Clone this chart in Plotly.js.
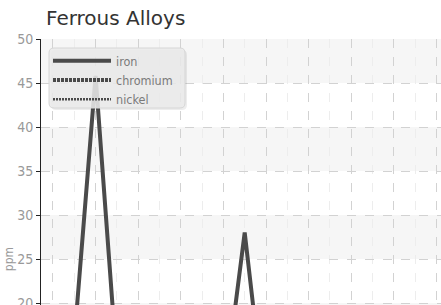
<!DOCTYPE html>
<html>
<head>
<meta charset="utf-8">
<script src="https://cdn.plot.ly/plotly-3.0.1.min.js"></script>
<style>
html, body { margin: 0; padding: 0; overflow: hidden; background: #fff; }
#chart { width: 441px; height: 520px; }
</style>
</head>
<body>
<div id="chart"></div>
<script>
// Data
var xIndex   = [1, 2, 3, 4, 5, 6, 7, 8, 9, 10, 11, 12, 13, 14, 15, 16, 17, 18, 19, 20];
var iron     = [10, 12, 15.8, 45.8, 13, 8, 11, 9, 10, 9, 28, 7, 12, 14, 10, 11, 9, 13, 12, 10];
var chromium = [5, 6, 4, 7, 5, 6, 8, 5, 6, 7, 9, 6, 5, 7, 6, 8, 5, 6, 7, 6];
var nickel   = [3, 2, 4, 3, 2, 3, 4, 2, 3, 4, 5, 3, 2, 3, 4, 3, 2, 4, 3, 2];
var seriesNames = ['iron', 'chromium', 'nickel'];
var yTicks = [0, 5, 10, 15, 20, 25, 30, 35, 40, 45, 50];

var lineColor = '#4a4a4a';
var traces = [
  {x: xIndex, y: iron, name: seriesNames[0], mode: 'lines', line: {color: lineColor, width: 4}},
  {x: xIndex, y: chromium, name: seriesNames[1], mode: 'lines', line: {color: lineColor, width: 4, dash: '3px,1px'}},
  {x: xIndex, y: nickel, name: seriesNames[2], mode: 'lines', line: {color: lineColor, width: 2.5, dash: '2px,1px'}}
];

// plot area geometry (px) used to place the decorative legend frame
var W = 441, H = 520, mL = 41, mR = 0, mT = 39, mB = 41;
var pw = W - mL - mR, ph = H - mT - mB;
function px2x(p) { return (p - mL) / pw; }
function px2y(p) { return 1 - (p - mT) / ph; }
function roundRect(x0, y0, x1, y1, r) {
  var ax = r / pw, ay = r / ph;
  var X0 = px2x(x0), X1 = px2x(x1), Y0 = px2y(y0), Y1 = px2y(y1);
  return 'M' + (X0 + ax) + ',' + Y0 + ' L' + (X1 - ax) + ',' + Y0 +
    ' Q' + X1 + ',' + Y0 + ' ' + X1 + ',' + (Y0 - ay) +
    ' L' + X1 + ',' + (Y1 + ay) + ' Q' + X1 + ',' + Y1 + ' ' + (X1 - ax) + ',' + Y1 +
    ' L' + (X0 + ax) + ',' + Y1 + ' Q' + X0 + ',' + Y1 + ' ' + X0 + ',' + (Y1 + ay) +
    ' L' + X0 + ',' + (Y0 - ay) + ' Q' + X0 + ',' + Y0 + ' ' + (X0 + ax) + ',' + Y0 + ' Z';
}

// alternating background bands
var shapes = [];
for (var i = 0; i + 1 < yTicks.length; i++) {
  if ((yTicks.length - 2 - i) % 2 === 0) {
    shapes.push({type: 'rect', xref: 'paper', yref: 'y', x0: 0, x1: 1,
      y0: yTicks[i], y1: yTicks[i + 1], fillcolor: '#f6f6f6', line: {width: 0}, layer: 'below'});
  }
}
// legend frame: shadow + rounded translucent box
shapes.push({type: 'path', xref: 'paper', yref: 'paper', path: roundRect(51, 50, 187, 110, 5),
  fillcolor: 'rgba(0,0,0,0.07)', line: {width: 0}, layer: 'above'});
shapes.push({type: 'path', xref: 'paper', yref: 'paper', path: roundRect(49, 48, 185, 108, 5),
  fillcolor: 'rgba(234,234,234,0.87)', line: {color: '#d6d6d6', width: 1}, layer: 'above'});

var condensed = '"DejaVu Sans Condensed", "Liberation Sans Narrow", "Roboto", sans-serif';
var tickFont = {family: condensed, size: 14, color: '#999999'};

var layout = {
  width: W, height: H,
  margin: {l: mL, r: mR, t: mT, b: mB},
  paper_bgcolor: '#ffffff', plot_bgcolor: 'rgba(0,0,0,0)',
  title: {text: 'Ferrous Alloys', font: {family: '"DejaVu Sans", sans-serif', size: 20, color: '#333'},
          xref: 'container', x: 46/441, xanchor: 'left', yref: 'container', y: 1 - 18/520, yanchor: 'middle'},
  showlegend: true,
  legend: {x: px2x(48), y: px2y(46), xanchor: 'left', yanchor: 'top',
           bgcolor: 'rgba(0,0,0,0)', borderwidth: 0,
           itemwidth: 58, tracegroupgap: 0,
           font: {family: condensed, size: 12.5, color: '#7a7a7a'}},
  xaxis: {range: [1.437, 20.216], dtick: 2, tick0: 0, showticklabels: false, ticks: '',
          showgrid: true, gridcolor: '#d2d2d2', griddash: 'dash', gridwidth: 1,
          minor: {dtick: 1, tick0: 0, showgrid: true, gridcolor: '#ededed', griddash: 'dash'},
          zeroline: false, showline: false, fixedrange: true},
  yaxis: {range: [0, 50], tickvals: yTicks, ticks: 'outside', ticklen: 4, tickcolor: '#222',
          showline: true, linecolor: '#222', linewidth: 1,
          showgrid: true, gridcolor: '#d2d2d2', griddash: 'dash',
          zeroline: false, tickfont: tickFont,
          title: {text: 'ppm', font: {family: condensed, size: 12, color: '#9a9a9a'}, standoff: 0},
          fixedrange: true},
  shapes: shapes
};

Plotly.newPlot('chart', traces, layout, {displayModeBar: false, staticPlot: true});
</script>
</body>
</html>
